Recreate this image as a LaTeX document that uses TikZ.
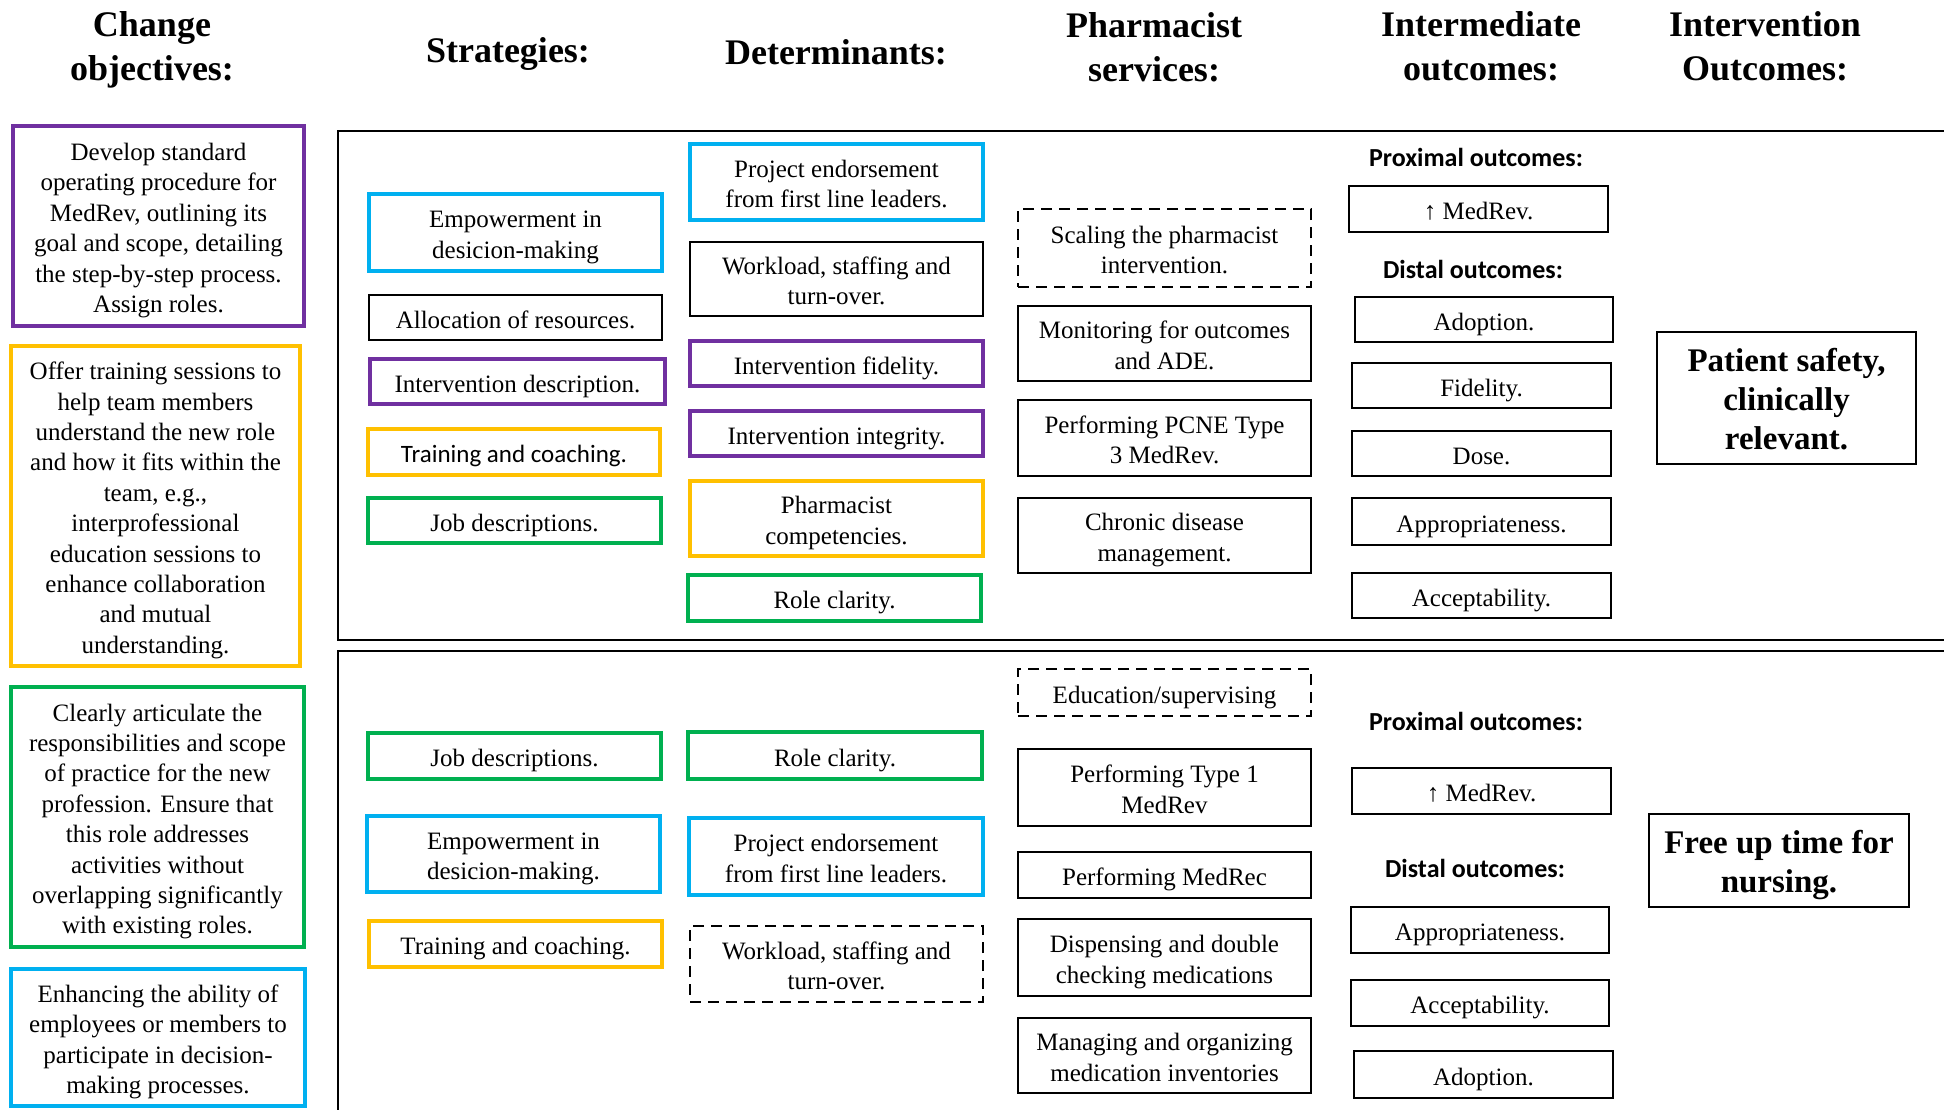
\documentclass[tikz,border=0pt]{standalone}
\usepackage{fontspec}
\setmainfont{Liberation Serif}
\newfontfamily\calibri{Carlito}
\definecolor{cpurple}{HTML}{7030A0}
\definecolor{cyellow}{HTML}{FFC000}
\definecolor{cgreen}{HTML}{00B050}
\definecolor{cblue}{HTML}{00B0F0}
\newcommand\bodyfont{\fontsize{25}{30.4}\selectfont}
\newcommand\headfont{\bfseries\fontsize{36}{44}\selectfont}
\newcommand\bodytop{\rule{0pt}{27pt}}
\newcommand\bodybot{\rule[-6pt]{0pt}{6pt}}
\newcommand\outtop{\rule{0pt}{32pt}}
\newcommand\outbot{\rule[-7pt]{0pt}{7pt}}
\newcommand\tstrut{\bodytop}
\newcommand\bstrut{\bodybot}
\newcommand\mybox[7]{\node[#1, minimum width={(#5-#3)*1pt}, minimum height={(#6-#4)*1pt}] (#2) at ({(#3+#5)/2},{-(#4+#6)/2}) {\tstrut#7\bstrut};}
\tikzset{
  x=1pt, y=1pt,
  box/.style={draw=black, line width=2.4pt, inner sep=0pt, align=center, font=\bodyfont,
    execute at begin node={\let\tstrut\bodytop\let\bstrut\bodybot}},
  cbox/.style={box, line width=3.2pt},
  dbox/.style={box, line width=2pt, dash pattern=on 11pt off 7pt},
  head/.style={inner sep=0pt, align=center, font=\headfont},
  sublabel/.style={inner sep=0pt, font=\calibri\bfseries\fontsize{26}{30}\selectfont},
  outbox/.style={draw=black, line width=2.6pt, inner sep=0pt, align=center, font=\bfseries\fontsize{33}{39}\selectfont,
    execute at begin node={\let\tstrut\outtop\let\bstrut\outbot}},
  frame/.style={draw=black, line width=2.6pt}
}
\begin{document}
\begin{tikzpicture}
\clip (0,0) rectangle (1944,-1109);
\fill[white] (0,0) rectangle (1944,-1109);

% headers
\node[head] (h1) at (152,-50) {Change\\objectives:};
\node[head] (h2) at (508,-53.5) {Strategies:};
\node[head] (h3) at (836,-52) {Determinants:};
\node[head] (h4) at (1154,-47) {Pharmacist\\services:};
\node[head] (h5) at (1481,-46.5) {Intermediate\\outcomes:};
\node[head] (h6) at (1765,-46.5) {Intervention\\Outcomes:};

% section frames
\draw[frame] (1960,-131) -- (338,-131) -- (338,-640) -- (1960,-640);
\draw[frame] (1960,-651) -- (338,-651) -- (338,-1120);

% change objectives
\mybox{cbox, draw=cpurple}{o1}{13}{126}{304}{326}{Develop standard\\operating procedure for\\MedRev, outlining its\\goal and scope, detailing\\the step-by-step process.\\Assign roles.}
\mybox{cbox, draw=cyellow}{o2}{11}{346}{300}{666}{Offer training sessions to\\help team members\\understand the new role\\and how it fits within the\\team, e.g.,\\interprofessional\\education sessions to\\enhance collaboration\\and mutual\\understanding.}
\mybox{cbox, draw=cgreen}{o3}{11}{687}{304}{947}{Clearly articulate the\\responsibilities and scope\\of practice for the new\\profession. Ensure that\\this role addresses\\activities without\\overlapping significantly\\with existing roles.}
\mybox{cbox, draw=cblue}{o4}{11}{969}{305}{1106}{Enhancing the ability of\\employees or members to\\participate in decision-\\making processes.}

% strategies (top)
\mybox{cbox, draw=cblue}{s1}{369}{194}{662}{271}{Empowerment in\\desicion-making}
\mybox{box}{s2}{369}{295}{662}{340}{Allocation of resources.}
\mybox{cbox, draw=cpurple}{s3}{370}{359}{665}{404}{Intervention description.}
\mybox{cbox, draw=cyellow, font=\calibri\fontsize{25}{30}\selectfont}{s4}{368}{429}{660}{475}{Training and coaching.}
\mybox{cbox, draw=cgreen}{s5}{368}{498}{661}{543}{Job descriptions.}
% strategies (bottom)
\mybox{cbox, draw=cgreen}{s6}{368}{733}{661}{779}{Job descriptions.}
\mybox{cbox, draw=cblue}{s7}{367}{816}{660}{892}{Empowerment in\\desicion-making.}
\mybox{cbox, draw=cyellow}{s8}{369}{921}{662}{967}{Training and coaching.}

% determinants (top)
\mybox{cbox, draw=cblue}{d1}{690}{144}{983}{220}{Project endorsement\\from first line leaders.}
\mybox{box}{d2}{690}{242}{983}{316}{Workload, staffing and\\turn-over.}
\mybox{cbox, draw=cpurple}{d3}{690}{341}{983}{386}{Intervention fidelity.}
\mybox{cbox, draw=cpurple}{d4}{690}{411}{983}{456}{Intervention integrity.}
\mybox{cbox, draw=cyellow}{d5}{690}{481}{983}{556}{Pharmacist\\competencies.}
\mybox{cbox, draw=cgreen}{d6}{688}{575}{981}{621}{Role clarity.}
% determinants (bottom)
\mybox{cbox, draw=cgreen}{d7}{688}{732}{982}{779}{Role clarity.}
\mybox{cbox, draw=cblue}{d8}{689}{818}{983}{895}{Project endorsement\\from first line leaders.}
\mybox{dbox}{d9}{690}{926}{983}{1002}{Workload, staffing and\\turn-over.}

% pharmacist services (top)
\mybox{dbox}{p1}{1018}{209}{1311}{287}{Scaling the pharmacist\\intervention.}
\mybox{box}{p2}{1018}{306}{1311}{381}{Monitoring for outcomes\\and ADE.}
\mybox{box}{p3}{1018}{400}{1311}{476}{Performing PCNE Type\\3 MedRev.}
\mybox{box}{p4}{1018}{498}{1311}{573}{Chronic disease\\management.}
% pharmacist services (bottom)
\mybox{dbox}{p5}{1018}{669}{1311}{716}{Education/supervising}
\mybox{box}{p6}{1018}{749}{1311}{826}{Performing Type 1\\MedRev}
\mybox{box}{p7}{1018}{852}{1311}{898}{Performing MedRec}
\mybox{box}{p8}{1018}{919}{1311}{996}{Dispensing and double\\checking medications}
\mybox{box}{p9}{1018}{1018}{1311}{1093}{Managing and organizing\\medication inventories}

% intermediate outcomes (top)
\node[sublabel] (l1) at (1476,-157) {Proximal outcomes:};
\mybox{box}{i1}{1349}{186}{1608}{232}{↑ MedRev.}
\node[sublabel] (l2) at (1473,-269) {Distal outcomes:};
\mybox{box}{i2}{1355}{297}{1613}{342}{Adoption.}
\mybox{box}{i3}{1352}{363}{1611}{408}{Fidelity.}
\mybox{box}{i4}{1352}{431}{1611}{476}{Dose.}
\mybox{box}{i5}{1352}{498}{1611}{545}{Appropriateness.}
\mybox{box}{i6}{1352}{573}{1611}{618}{Acceptability.}
% intermediate outcomes (bottom)
\node[sublabel] (l3) at (1476,-721) {Proximal outcomes:};
\mybox{box}{i7}{1352}{768}{1611}{814}{↑ MedRev.}
\node[sublabel] (l4) at (1475,-868.5) {Distal outcomes:};
\mybox{box}{i8}{1351}{907}{1609}{953}{Appropriateness.}
\mybox{box}{i9}{1351}{980}{1609}{1026}{Acceptability.}
\mybox{box}{i10}{1354}{1051}{1613}{1098}{Adoption.}

% intervention outcomes
\mybox{outbox}{v1}{1657}{332}{1916}{464}{Patient safety,\\clinically\\relevant.}
\mybox{outbox}{v2}{1649}{814}{1909}{907}{Free up time for\\nursing.}
\end{tikzpicture}
\end{document}
